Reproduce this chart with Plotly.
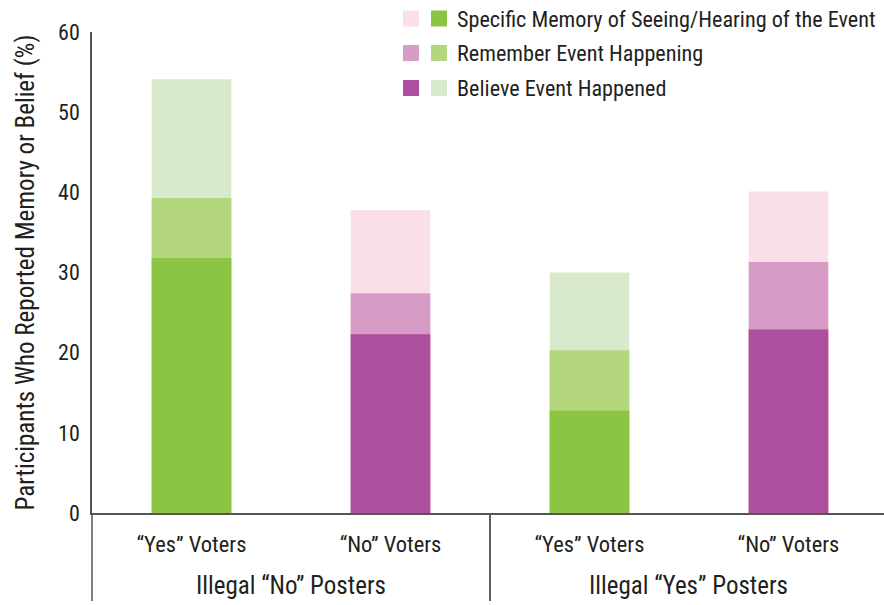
import plotly.graph_objects as go

# ---- data ----
posters = ["Illegal “No” Posters", "Illegal “No” Posters",
           "Illegal “Yes” Posters", "Illegal “Yes” Posters"]
voters = ["“Yes” Voters", "“No” Voters", "“Yes” Voters", "“No” Voters"]

# cumulative percentages (each level includes the ones below it)
believe_event = [54.1, 37.8, 30.0, 40.1]
remember_event = [39.3, 27.4, 20.3, 31.3]
specific_memory = [31.8, 22.3, 12.8, 22.9]

series_names = ["Specific Memory of Seeing/Hearing of the Event",
                "Remember Event Happening",
                "Believe Event Happened"]

green = {"specific": "#8BC543", "remember": "#B4D67D", "believe": "#D9EACC"}
purple = {"specific": "#AD4F9F", "remember": "#D69CC6", "believe": "#FADFE9"}

FONT = "Liberation Sans Narrow, Arial Narrow, Roboto Condensed, Liberation Sans, sans-serif"
TXT = "#231F20"
AX = "#555555"
FS = 22

idx = list(range(len(voters)))
XR = [-0.5, len(voters) - 0.52]


def colors(level):
    return [green[level] if v == "“Yes” Voters" else purple[level] for v in voters]


fig = go.Figure()
for vals, level, name in [(believe_event, "believe", series_names[2]),
                          (remember_event, "remember", series_names[1]),
                          (specific_memory, "specific", series_names[0])]:
    fig.add_trace(go.Bar(x=idx, y=vals, name=name, width=0.4,
                         marker=dict(color=colors(level), line=dict(width=0)),
                         showlegend=False))

# page body margin is removed (see post_script), so layout is in page pixels
W, H = 884, 605
PL, PT, PB, PR = 92, 32, 513, 884            # plot area in page pixels
ML, MT, MR, MB = PL, PT, W - PR, H - PB
pw, ph = PR - PL, PB - PT


def px_x(p):
    return (p - PL) / pw


def px_y(p):
    return (PB - p) / ph


def data_to_paper(v):
    return (v - XR[0]) / (XR[1] - XR[0])


shapes = []
annotations = []

# group labels and dividers (from the posters list)
groups = []
for i, g in enumerate(posters):
    if not groups or groups[-1][0] != g:
        groups.append([g, i, i])
    else:
        groups[-1][2] = i
for g, a, b in groups:
    annotations.append(dict(text=g, xref="paper", yref="paper",
                            x=data_to_paper((a + b) / 2), y=px_y(585),
                            xanchor="center", yanchor="middle", showarrow=False,
                            font=dict(family=FONT, size=25, color=TXT)))
    for bx in (a - 0.5, b + 0.5):
        xp = data_to_paper(bx)
        if 0 <= xp <= 1:
            shapes.append(dict(type="line", xref="paper", yref="paper",
                               x0=xp, x1=xp, y0=0, y1=px_y(601),
                               line=dict(color=AX, width=1.5)))

# custom two-column legend (pink column / green column)
legend_rows = [
    (series_names[0], purple["believe"], green["specific"], 18.5),
    (series_names[1], purple["remember"], green["remember"], 53),
    (series_names[2], purple["specific"], green["believe"], 88),
]
for name, c1, c2, yc in legend_rows:
    for xc, c in [(411, c1), (439, c2)]:
        shapes.append(dict(type="rect", xref="paper", yref="paper",
                           xsizemode="pixel", ysizemode="pixel",
                           xanchor=px_x(xc), yanchor=px_y(yc),
                           x0=-8, x1=8, y0=-8, y1=8,
                           fillcolor=c, line=dict(width=0), layer="above"))
    annotations.append(dict(text=name, xref="paper", yref="paper",
                            x=px_x(455), y=px_y(yc), xanchor="left", yanchor="middle",
                            showarrow=False, font=dict(family=FONT, size=22.2, color=TXT)))

fig.update_layout(
    width=W, height=H,
    margin=dict(l=ML, r=MR, t=MT, b=MB, pad=0),
    barmode="overlay",
    plot_bgcolor="white", paper_bgcolor="white",
    font=dict(family=FONT, size=FS, color=TXT),
    shapes=shapes, annotations=annotations,
    hovermode=False,
    xaxis=dict(range=XR, tickvals=idx, ticktext=voters, automargin=False,
               showline=True, linecolor=AX, linewidth=1.5,
               showgrid=False, ticks="", zeroline=False, ticklabelstandoff=10,
               tickfont=dict(family=FONT, size=22.5, color=TXT)),
    yaxis=dict(range=[0, 60], dtick=10, showline=True, linecolor=AX, linewidth=1.5,
               showgrid=False, ticks="", zeroline=False, ticklabelstandoff=6,
               automargin=False,
               tickfont=dict(family=FONT, size=FS, color=TXT),
               title=dict(text="Participants Who Reported Memory or Belief (%)",
                          font=dict(family=FONT, size=25, color=TXT), standoff=16)),
)

fig.write_html("out.html",
               config={"displayModeBar": False},
               post_script="document.body.style.margin='0';"
                           "document.body.style.overflow='hidden';")
